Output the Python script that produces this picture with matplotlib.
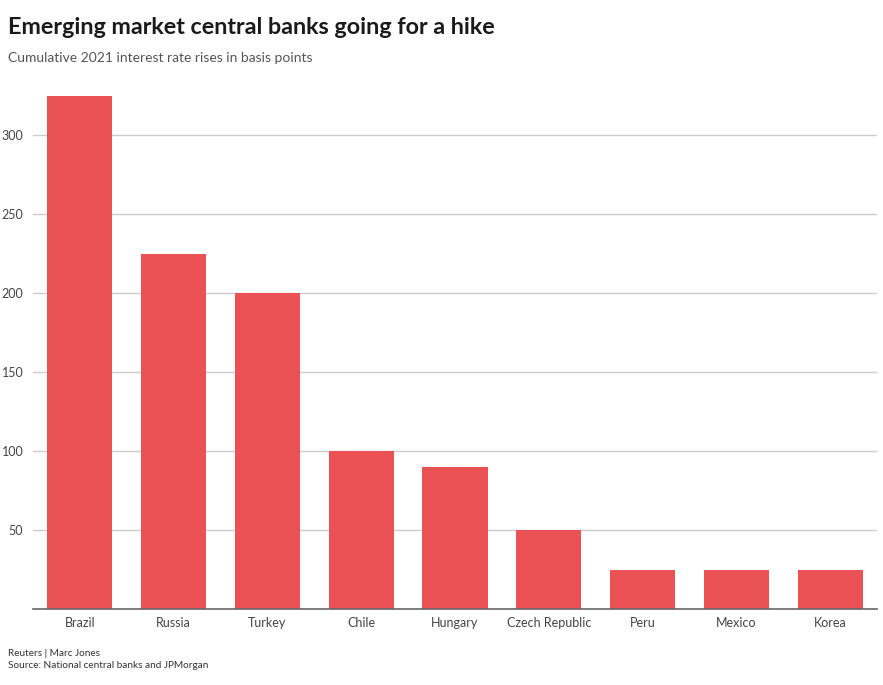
import matplotlib
matplotlib.use("Agg")
import matplotlib.pyplot as plt

countries = ["Brazil", "Russia", "Turkey", "Chile", "Hungary",
             "Czech Republic", "Peru", "Mexico", "Korea"]
hikes = [325, 225, 200, 100, 90, 50, 25, 25, 25]
yticks = [50, 100, 150, 200, 250, 300]

plt.rcParams['font.family'] = ['Lato', 'DejaVu Sans']

W, H = 883, 685
fig = plt.figure(figsize=(W / 100, H / 100), dpi=100)
# axes in pixel coords: left 33, right 877, top 88, bottom 609
ax = fig.add_axes([33 / W, 1 - 609 / H, (877 - 33) / W, (609 - 88) / H])

ax.bar(range(len(countries)), hikes, width=0.695, color="#eb5256", zorder=2)
ax.set_xlim(-0.5, len(countries) - 0.5)
ax.set_ylim(0, 330)

ax.set_yticks(yticks)
ax.set_yticklabels([str(v) for v in yticks])
ax.yaxis.grid(True, color="#cccccc", linewidth=1, zorder=0)
ax.set_xticks(range(len(countries)))
ax.set_xticklabels(countries)
ax.tick_params(axis="y", length=0, pad=7, labelsize=9, labelcolor="#444444")
ax.tick_params(axis="x", length=0, pad=6, labelsize=9, labelcolor="#444444")

for side in ["top", "right", "left"]:
    ax.spines[side].set_visible(False)
ax.spines["bottom"].set_color("#666666")
ax.spines["bottom"].set_linewidth(1.2)
ax.spines["bottom"].set_zorder(3)

fig.text(8 / W, 1 - 27 / H, "Emerging market central banks going for a hike",
         fontsize=16.8, fontweight="bold", color="#1a1a1a", va="center")
fig.text(8 / W, 1 - 58 / H, "Cumulative 2021 interest rate rises in basis points",
         fontsize=10, color="#555555", va="center")
fig.text(8 / W, 1 - 653 / H, "Reuters | Marc Jones",
         fontsize=7.2, color="#333333", va="center")
fig.text(8 / W, 1 - 666 / H, "Source: National central banks and JPMorgan",
         fontsize=7.2, color="#333333", va="center")

fig.savefig("out.png", dpi=100, facecolor="white")
